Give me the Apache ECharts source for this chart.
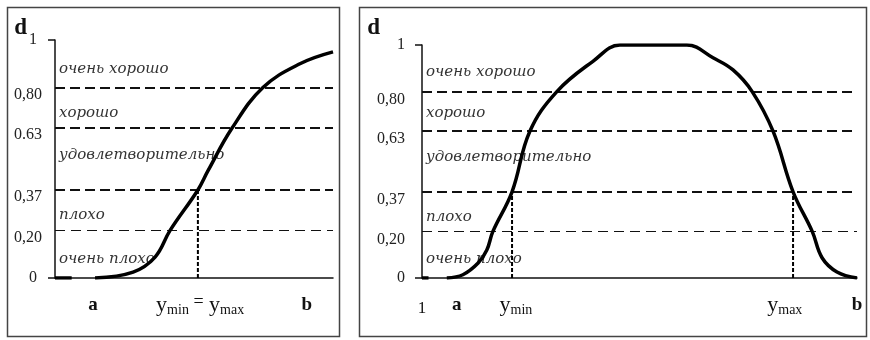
<!DOCTYPE html>
<html><head><meta charset="utf-8">
<script src="https://cdn.jsdelivr.net/npm/echarts@6/dist/echarts.min.js"></script>
<style>html,body{margin:0;padding:0;background:#fff}#c{width:870px;height:340px}</style>
</head><body><div id="c"></div>
<script>
// ---- data ----
const levels = [0, 0.2, 0.37, 0.63, 0.8, 1];
const zoneNames = ['очень плохо', 'плохо', 'удовлетворительно', 'хорошо', 'очень хорошо'];
const leftTickLabels = ['0', '0,20', '0,37', '0.63', '0,80', '1'];
const rightTickLabels = ['0', '0,20', '0,37', '0,63', '0,80', '1'];

const leftCurveX = [0, 6, 6, 14.4, 28.1, 36.0, 41.4, 51.4, 55.0, 63.7, 74.8, 88.1, 100];
const leftCurveY = [0, 0, null, 0, 0.025, 0.088, 0.2, 0.37, 0.45, 0.63, 0.8, 0.9, 0.95];

const rightCurveX = [0, 1.5, 1.5, 5.7, 9.4, 12.9, 14.9, 16.3, 20.7, 24.8, 31.0, 39.3, 45.5, 53.2, 60.9, 66.9, 71.5, 75.9, 80.7, 85.3, 89.7, 92.0, 95.4, 100];
const rightCurveY = [0, 0, null, 0, 0.014, 0.064, 0.12, 0.2, 0.37, 0.63, 0.8, 0.93, 1, 1, 1, 0.945, 0.893, 0.8, 0.63, 0.37, 0.2, 0.086, 0.026, 0];

const markLevel = 0.37;
const leftMarkX = [51.4];
const rightMarkX = [20.7, 85.3];

const leftXLabelPos = [13.7, 52.2, 90.6];
const leftXLabels = ['a', 'ymin=ymax', 'b'];
const rightXLabelPos = [0, 8.0, 21.6, 83.4, 100];
const rightXLabels = ['1', 'a', 'ymin', 'ymax', 'b'];

// ---- helpers ----
const SERIF = '"Liberation Serif", "Times New Roman", serif';
function zip(xs, ys) { return xs.map((x, i) => [x, ys[i] == null ? '-' : ys[i]]); }
function findIdx(arr, v) { let b = 0, d = 1e9; arr.forEach((a, i) => { const dd = Math.abs(a - v); if (dd < d) { d = dd; b = i; } }); return b; }

function xLabelRich(t) {
  if (t === 'a' || t === 'b') return '{b|' + t + '}';
  if (t === '1') return '{n|1}';
  if (t === 'ymin=ymax') return '{y|y}{s|min}{e| =}{y| y}{s|max}';
  if (t === 'ymin') return '{y|y}{s|min}';
  if (t === 'ymax') return '{y|y}{s|max}';
  return t;
}
const xRich = {
  b: { fontFamily: SERIF, fontWeight: 'bold', fontSize: 19, color: '#111', lineHeight: 24 },
  n: { fontFamily: SERIF, fontSize: 17, color: '#111', lineHeight: 24, padding: [8, 0, 0, 0] },
  y: { fontFamily: SERIF, fontSize: 22, color: '#111', lineHeight: 24 },
  s: { fontFamily: SERIF, fontSize: 14, color: '#111', lineHeight: 14, verticalAlign: 'bottom' },
  e: { fontFamily: SERIF, fontSize: 18, color: '#111', lineHeight: 24, verticalAlign: 'top' }
};

function yAxisFor(gi, labels, marginM, padE, padTop, nameGap, namePad) {
  return {
    gridIndex: gi, type: 'value', min: 0, max: 1,
    name: 'd', nameLocation: 'end', nameGap: nameGap, nameMoveOverlap: false,
    nameTextStyle: { fontFamily: SERIF, fontWeight: 'bold', fontSize: 23, color: '#111', align: 'right', verticalAlign: 'middle', padding: [0, namePad, 0, 0] },
    axisLine: { show: true, lineStyle: { color: '#111', width: 1.5 } },
    axisTick: { show: true, customValues: [0, 1], length: 7, lineStyle: { color: '#111', width: 1.5 } },
    splitLine: { show: false },
    axisLabel: {
      customValues: levels, margin: marginM,
      formatter: v => {
        const i = findIdx(levels, v);
        return (i === 0 || i === levels.length - 1) ? '{e|' + labels[i] + '}' : '{m|' + labels[i] + '}';
      },
      rich: {
        e: { fontFamily: SERIF, fontSize: 16, color: '#222', padding: [0, padE, 0, 0] },
        m: { fontFamily: SERIF, fontSize: 16, color: '#222', padding: [padTop, 0, 0, 0] }
      }
    }
  };
}
function xAxisFor(gi, pos, labels) {
  return {
    gridIndex: gi, type: 'value', min: 0, max: 100,
    axisLine: { show: true, lineStyle: { color: '#111', width: 1.5 } },
    axisTick: { show: false }, splitLine: { show: false },
    axisLabel: {
      customValues: pos, margin: 15,
      formatter: v => xLabelRich(labels[findIdx(pos, v)]),
      rich: xRich
    }
  };
}
function zones(offsets) {
  return zoneNames.map((n, i) => [
    { yAxis: levels[i], name: n, label: { offset: [0, offsets[i]] } },
    { yAxis: levels[i + 1] }
  ]);
}
function hLines() {
  return levels.slice(1, -1).map(v => ({
    yAxis: v,
    lineStyle: v <= 0.2 ? { width: 1.2, type: [10, 6], color: '#111' } : { width: 2, type: [10, 5], color: '#111' }
  }));
}
function curveSeries(gi, xs, ys, offsets) {
  return {
    type: 'line', xAxisIndex: gi, yAxisIndex: gi,
    data: zip(xs, ys), smooth: 0.4, symbol: 'none',
    lineStyle: { color: '#000', width: 3.5 }, z: 5,
    markLine: { silent: true, symbol: ['none', 'none'], label: { show: false }, data: hLines() },
    markArea: {
      silent: true, itemStyle: { color: 'rgba(0,0,0,0)' },
      label: { position: 'insideLeft', distance: 4, fontFamily: '"DejaVu Serif", serif', fontStyle: 'italic', fontSize: 15, color: '#333' },
      data: zones(offsets)
    }
  };
}
function markSeries(gi, xs) {
  return xs.map(x => ({
    type: 'line', xAxisIndex: gi, yAxisIndex: gi, symbol: 'none',
    data: [[x, 0], [x, markLevel]],
    lineStyle: { color: '#000', width: 2, type: [4, 2] }, z: 4
  }));
}

const chart = echarts.init(document.getElementById('c'));
chart.setOption({
  animation: false,
  backgroundColor: '#fff',
  graphic: [
    { type: 'rect', shape: { x: 7.5, y: 7.5, width: 332, height: 329 }, style: { fill: 'none', stroke: '#444', lineWidth: 1.5 }, silent: true },
    { type: 'rect', shape: { x: 359.5, y: 7.5, width: 507, height: 329 }, style: { fill: 'none', stroke: '#444', lineWidth: 1.5 }, silent: true }
  ],
  grid: [
    { left: 55, top: 40, width: 278, height: 238 },
    { left: 422, top: 45, width: 435, height: 233 }
  ],
  xAxis: [xAxisFor(0, leftXLabelPos, leftXLabels), xAxisFor(1, rightXLabelPos, rightXLabels)],
  yAxis: [
    yAxisFor(0, leftTickLabels, 13, 5, 14, 12, 28),
    yAxisFor(1, rightTickLabels, 17, 0, 16, 17, 42)
  ],
  series: [
    curveSeries(0, leftCurveX, leftCurveY, [5, 5, -4, 5, 5]),
    curveSeries(1, rightCurveX, rightCurveY, [4, 6, -4, 2, 4]),
    ...markSeries(0, leftMarkX),
    ...markSeries(1, rightMarkX)
  ]
});
</script>
</body></html>
